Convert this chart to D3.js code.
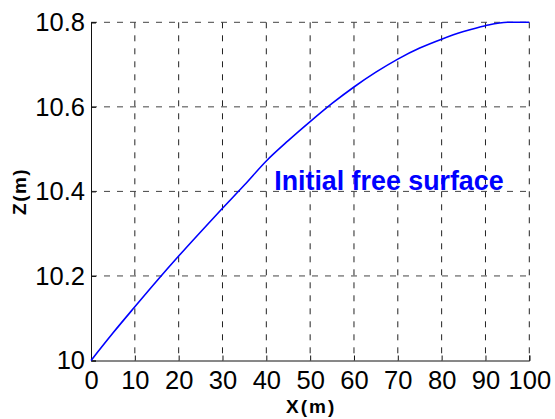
<!DOCTYPE html>
<html>
<head>
<meta charset="utf-8">
<script src="https://cdn.jsdelivr.net/npm/d3@7"></script>
<style>
  body { margin: 0; background: #fff; }
  text { font-family: "Liberation Sans", Arial, sans-serif; }
</style>
</head>
<body>
<div id="chart-area"></div>
<script>
// data
const xs = [0, 5, 10, 15, 20, 25, 30, 35, 40, 45, 50, 55, 60, 65, 70, 75, 80, 85, 90, 95, 100]
const zs = [10, 10.065, 10.127, 10.188, 10.247, 10.304, 10.36, 10.415, 10.472, 10.52, 10.565,
            10.608, 10.647, 10.682, 10.713, 10.739, 10.76, 10.778, 10.792, 10.8, 10.8]
const xTicks = [0, 10, 20, 30, 40, 50, 60, 70, 80, 90, 100]
const yTicks = [10, 10.2, 10.4, 10.6, 10.8]
const label = "Initial free surface"

const W = 555, H = 419
const m = { left: 91, top: 22.3, right: 25.7, bottom: 58.5 }
const w = W - m.left - m.right
const h = H - m.top - m.bottom

const svg = d3.select("#chart-area").append("svg").attr("width", W).attr("height", H)
const g = svg.append("g").attr("transform", `translate(${m.left},${m.top})`)

const x = d3.scaleLinear().domain([0, 100]).range([0, w])
const y = d3.scaleLinear().domain([10, 10.8]).range([h, 0])

// grid
g.selectAll(".vgrid").data(xTicks.slice(1))
  .enter().append("line")
  .attr("x1", d => x(d)).attr("x2", d => x(d))
  .attr("y1", 0).attr("y2", h)
  .attr("stroke", "#222").attr("stroke-dasharray", "6,7")
g.selectAll(".hgrid").data(yTicks.slice(1))
  .enter().append("line")
  .attr("x1", 0).attr("x2", w)
  .attr("y1", d => y(d)).attr("y2", d => y(d))
  .attr("stroke", "#444").attr("stroke-dasharray", "6,7")

// axes
const xAxis = d3.axisBottom(x).tickValues(xTicks).tickSize(-5).tickPadding(10)
const yAxis = d3.axisLeft(y).tickValues(yTicks).tickSize(-5).tickPadding(6)
  .tickFormat(d => d === 10 ? "10" : d3.format(".1f")(d))

const gx = g.append("g").attr("transform", `translate(0,${h})`).call(xAxis)
const gy = g.append("g").call(yAxis)
;[gx, gy].forEach(a => {
  a.select(".domain").attr("stroke", "#111")
  a.selectAll(".tick line").attr("stroke", "#111")
  a.selectAll("text").attr("font-size", 25.5).attr("fill", "#000")
    .style("font-family", "Liberation Sans, Arial, sans-serif")
})
gx.selectAll("text").attr("dy", "0.71em")

// curve
const line = d3.line().x((d, i) => x(xs[i])).y(d => y(d)).curve(d3.curveMonotoneX)
g.append("path").datum(zs)
  .attr("d", line)
  .attr("fill", "none")
  .attr("stroke", "#0000ff")
  .attr("stroke-width", 1.6)

// annotation
g.append("text")
  .attr("x", x(41.8)).attr("y", y(10.4) - 1.5)
  .attr("font-size", 26.8).attr("font-weight", "bold").attr("fill", "#0000ff")
  .text(label)

// axis labels
svg.append("text")
  .attr("x", m.left + w / 2 + 1).attr("y", 413)
  .attr("text-anchor", "middle").attr("font-size", 19).attr("font-weight", "bold")
  .attr("letter-spacing", 2)
  .text("X(m)")
svg.append("text")
  .attr("transform", `translate(25.7,${m.top + h / 2}) rotate(-90)`)
  .attr("text-anchor", "middle").attr("font-size", 19).attr("font-weight", "bold")
  .attr("letter-spacing", 1.5)
  .text("Z(m)")
</script>
</body>
</html>
